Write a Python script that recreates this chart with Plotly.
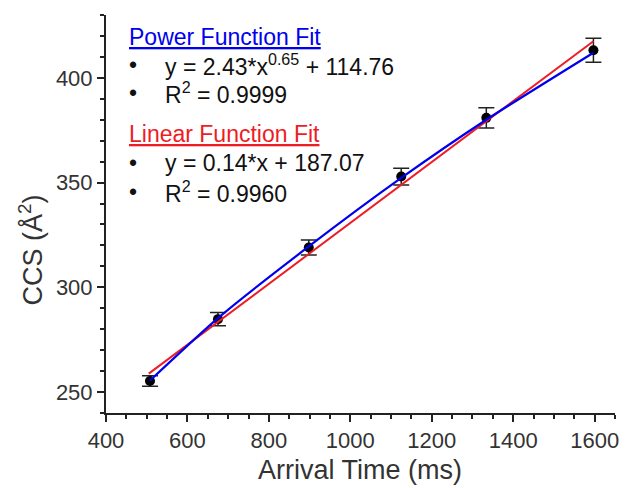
import plotly.graph_objects as go

# ---- data ----
arrival_time = [508, 675, 898, 1125, 1334, 1597]
ccs = [255.3, 284.8, 319.0, 352.9, 380.9, 413.2]
ccs_err = [2.5, 3.2, 3.6, 4.0, 4.8, 5.7]

power_fit_x = [508, 675, 898, 1125, 1334, 1597]
power_fit_y = [255.5, 285.3, 319.5, 352.2, 380.0, 412.0]

linear_fit_x = [505, 1597]
linear_fit_y = [258.8, 417.5]

x_ticks = [400, 600, 800, 1000, 1200, 1400, 1600]
y_ticks = [250, 300, 350, 400]

W, H = 629, 488
ML, MR, MT, MB = 106, 10, 15, 75
PW, PH = W - ML - MR, H - MT - MB

FONT = "Liberation Sans, Arial, sans-serif"
TXT = "#333333"


def px(xp):
    return (xp - ML) / PW


def py(yp):
    return (H - MB - yp) / PH


fig = go.Figure()

fig.add_trace(go.Scatter(
    x=arrival_time, y=ccs, mode="markers",
    marker=dict(color="black", size=10),
    error_y=dict(type="data", array=ccs_err, color="#222222", thickness=1.5, width=8),
    showlegend=False,
))
fig.add_trace(go.Scatter(
    x=linear_fit_x, y=linear_fit_y, mode="lines",
    line=dict(color="#ee1c25", width=2), showlegend=False,
))
fig.add_trace(go.Scatter(
    x=power_fit_x, y=power_fit_y, mode="lines",
    line=dict(color="#0000ee", width=2.2, shape="spline", smoothing=0.6), showlegend=False,
))

annotations = []


def add_text(text, xp, yp, color="#111111", size=23):
    annotations.append(dict(
        text=text, x=px(xp), y=py(yp), xref="paper", yref="paper",
        xanchor="left", yanchor="middle", showarrow=False,
        font=dict(family=FONT, size=size, color=color),
    ))


add_text("<u>Power Function Fit</u>", 127, 37, color="#0000ee")
add_text("•", 127, 65)
add_text("y = 2.43*x<sup>0.65</sup> + 114.76", 163, 65)
add_text("•", 127, 93)
add_text("R<sup>2</sup> = 0.9999", 163, 93)
add_text("<u>Linear Function Fit</u>", 127, 134, color="#ee1c25")
add_text("•", 127, 163)
add_text("y = 0.14*x + 187.07", 163, 163)
add_text("•", 127, 192)
add_text("R<sup>2</sup> = 0.9960", 163, 192)

# axis titles
annotations.append(dict(
    text="Arrival Time (ms)", x=px(362), y=py(470), xref="paper", yref="paper",
    xanchor="center", yanchor="middle", showarrow=False,
    font=dict(family=FONT, size=27, color=TXT),
))
annotations.append(dict(
    text="CCS (Å<sup>2</sup>)", x=px(30), y=py(250), xref="paper", yref="paper",
    xanchor="center", yanchor="middle", showarrow=False, textangle=-90,
    font=dict(family=FONT, size=27, color=TXT),
))

fig.update_layout(
    width=W, height=H,
    margin=dict(l=ML, r=MR, t=MT, b=MB),
    paper_bgcolor="white", plot_bgcolor="white",
    annotations=annotations,
    xaxis=dict(
        range=[400, 1650], tickvals=x_ticks, showgrid=False, zeroline=False,
        showline=True, linecolor="#222222", linewidth=2,
        ticks="outside", ticklen=7, tickwidth=2, tickcolor="#222222",
        minor=dict(dtick=50, ticks="outside", ticklen=4, tickwidth=1.5, tickcolor="#222222"),
        tickfont=dict(family=FONT, size=22, color=TXT),
    ),
    yaxis=dict(
        range=[240, 430], tickvals=y_ticks, showgrid=False, zeroline=False,
        showline=True, linecolor="#222222", linewidth=2,
        ticks="outside", ticklen=7, tickwidth=2, tickcolor="#222222",
        minor=dict(dtick=10, ticks="outside", ticklen=4, tickwidth=1.5, tickcolor="#222222"),
        tickfont=dict(family=FONT, size=22, color=TXT),
    ),
)

fig.write_html("out.html")
